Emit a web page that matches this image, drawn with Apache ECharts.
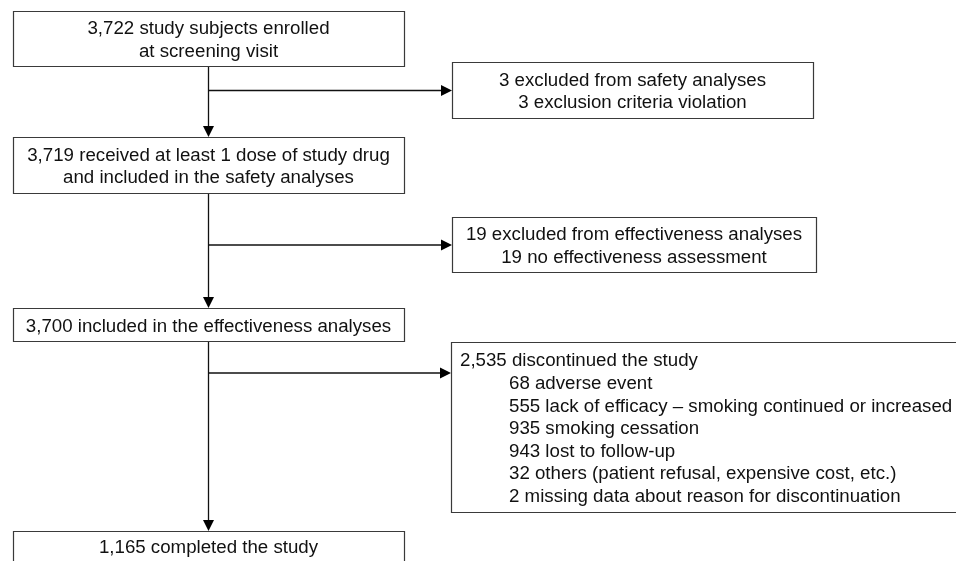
<!DOCTYPE html>
<html>
<head>
<meta charset="utf-8">
<script src="https://cdn.jsdelivr.net/npm/echarts@6/dist/echarts.min.js"></script>
<style>
html,body{margin:0;padding:0;background:#fff;}
#chart{width:956px;height:561px;}
</style>
</head>
<body>
<div id="chart"></div>
<script>
// ---- Data (text content of the flow) ----
const mainSteps = [
  ["3,722 study subjects enrolled", "at screening visit"],
  ["3,719 received at least 1 dose of study drug", "and included in the safety analyses"],
  ["3,700 included in the effectiveness analyses"],
  ["1,165 completed the study"]
];
const exclusionHeaders = [
  "3 excluded from safety analyses",
  "19 excluded from effectiveness analyses",
  "2,535 discontinued the study"
];
const exclusionReasons = [
  ["3 exclusion criteria violation"],
  ["19 no effectiveness assessment"],
  ["68 adverse event",
   "555 lack of efficacy \u2013 smoking continued or increased",
   "935 smoking cessation",
   "943 lost to follow-up",
   "32 others (patient refusal, expensive cost, etc.)",
   "2 missing data about reason for discontinuation"]
];

// ---- Layout (positions in the diagram's coordinate space) ----
const mainLayout = [
  {x0: 13, x1: 404, y0: 11, y1: 66},
  {x0: 13, x1: 404, y0: 137, y1: 193},
  {x0: 13, x1: 404, y0: 308, y1: 341},
  {x0: 13, x1: 404, y0: 531, y1: 580}
];
const sideLayout = [
  {x0: 452, x1: 813, y0: 62, y1: 118, align: 'center'},
  {x0: 452, x1: 816, y0: 217, y1: 272, align: 'center'},
  {x0: 451, x1: 975, y0: 342, y1: 512, align: 'left', padHead: 9, padReason: 58}
];
const branchY = [90.5, 245, 373];
const trunkX = 208.5;
const LH = 22.6;
const TEXT_DY = 2;
const FONT = '18.7px "Liberation Sans", Arial, sans-serif';

// Build box records
const boxes = [];
mainSteps.forEach((lines, i) => {
  boxes.push(Object.assign({lines: lines, align: 'center'}, mainLayout[i]));
});
exclusionHeaders.forEach((h, i) => {
  const L = sideLayout[i];
  const lines = [h].concat(exclusionReasons[i]);
  boxes.push(Object.assign({lines: lines}, L));
});

// Connectors: vertical arrows between main boxes, horizontal arrows to side boxes
const connectors = [];
for (let i = 0; i < mainLayout.length - 1; i++) {
  connectors.push({x0: trunkX, y0: mainLayout[i].y1, x1: trunkX, y1: mainLayout[i + 1].y0, arrow: true});
}
branchY.forEach((y, i) => {
  connectors.push({x0: trunkX, y0: y, x1: sideLayout[i].x0, y1: y, arrow: true});
});

const chart = echarts.init(document.getElementById('chart'), null, {renderer: 'canvas'});

function renderBox(params, api) {
  const b = boxes[params.dataIndex];
  const p0 = api.coord([api.value(0), api.value(1)]);
  const p1 = api.coord([api.value(2), api.value(3)]);
  const children = [{
    type: 'rect',
    shape: {x: Math.round(p0[0]) + 0.5, y: Math.round(p0[1]) + 0.5, width: Math.round(p1[0] - p0[0]), height: Math.round(p1[1] - p0[1])},
    style: {fill: '#fff', stroke: '#3a3a3a', lineWidth: 1.2}
  }];
  const n = b.lines.length;
  let cy = (p0[1] + p1[1]) / 2;
  if (p1[1] > 561) cy = p0[1] + 15;
  b.lines.forEach((t, k) => {
    const y = cy + (k - (n - 1) / 2) * LH + TEXT_DY;
    let x, align;
    if (b.align === 'center') {
      x = (p0[0] + p1[0]) / 2;
      align = 'center';
    } else {
      x = p0[0] + (k === 0 ? b.padHead : b.padReason);
      align = 'left';
    }
    children.push({
      type: 'text',
      style: {text: t, x: x, y: y, align: align, verticalAlign: 'middle', font: FONT, fill: '#111'}
    });
  });
  return {type: 'group', children: children};
}

function renderConnector(params, api) {
  const c = connectors[params.dataIndex];
  const a = api.coord([api.value(0), api.value(1)]);
  const b = api.coord([api.value(2), api.value(3)]);
  const dx = b[0] - a[0], dy = b[1] - a[1];
  const len = Math.sqrt(dx * dx + dy * dy);
  const ux = dx / len, uy = dy / len;
  const hl = 11, hw = 5.5;
  const base = [b[0] - ux * hl, b[1] - uy * hl];
  const children = [{
    type: 'line',
    shape: {x1: a[0], y1: a[1], x2: base[0], y2: base[1]},
    style: {stroke: '#111', lineWidth: 1.3}
  }];
  if (c.arrow) {
    children.push({
      type: 'polygon',
      shape: {points: [[b[0], b[1]], [base[0] - uy * hw, base[1] + ux * hw], [base[0] + uy * hw, base[1] - ux * hw]]},
      style: {fill: '#000'}
    });
  }
  return {type: 'group', children: children};
}

chart.setOption({
  backgroundColor: '#fff',
  animation: false,
  grid: {left: 0, right: 0, top: 0, bottom: 0},
  xAxis: {type: 'value', min: 0, max: 956, show: false},
  yAxis: {type: 'value', min: 0, max: 561, inverse: true, show: false},
  series: [
    {
      type: 'custom',
      name: 'connectors',
      renderItem: renderConnector,
      clip: false,
      data: connectors.map(c => [c.x0, c.y0, c.x1, c.y1]),
      z: 1
    },
    {
      type: 'custom',
      name: 'boxes',
      renderItem: renderBox,
      clip: false,
      data: boxes.map(b => [b.x0, b.y0, b.x1, b.y1]),
      z: 2
    }
  ]
});
</script>
</body>
</html>
